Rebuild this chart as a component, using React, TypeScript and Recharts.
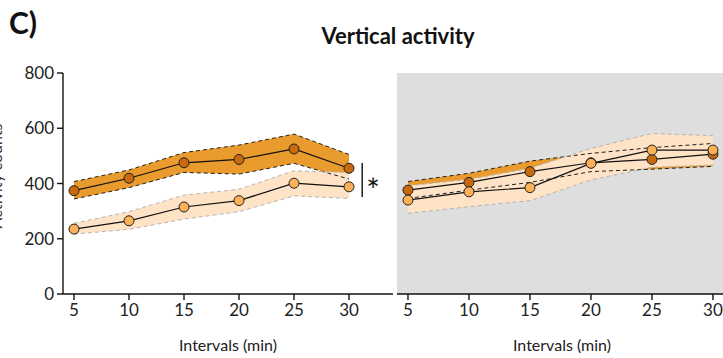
import React from 'react';
import {
  ComposedChart,
  Area,
  Line,
  XAxis,
  YAxis,
  CartesianGrid,
  ReferenceLine,
  Label,
} from 'recharts';

// Time bins (min)
const intervals = [5, 10, 15, 20, 25, 30];
const yTicks = [0, 200, 400, 600, 800];

// Left panel – dark group (mean and band limits)
const leftDarkMean = [374, 419, 475, 487, 525, 455];
const leftDarkLow = [344, 385, 440, 434, 473, 416];
const leftDarkHigh = [407, 449, 512, 539, 579, 505];
// Left panel – light group
const leftLightMean = [235, 265, 315, 338, 401, 388];
const leftLightLow = [217, 234, 271, 298, 355, 346];
const leftLightHigh = [256, 298, 358, 379, 446, 440];

// Right panel – dark group
const rightDarkMean = [376, 404, 443, 475, 487, 506];
const rightDarkLow = [346, 376, 404, 443, 452, 462];
const rightDarkHigh = [407, 437, 481, 509, 530, 545];
// Right panel – light group
const rightLightMean = [340, 370, 385, 473, 521, 521];
const rightLightLow = [292, 316, 338, 413, 459, 467];
const rightLightHigh = [392, 415, 455, 527, 581, 573];

// Significance bracket beside the left panel
const sigX = 31.2;
const sigRange = [351, 474];
const sigText = '*';

const FONT = "Lato, 'Open Sans', sans-serif";
const DARK_FILL = '#E99B2D';
const DARK_DOT = '#C8690E';
const LIGHT_FILL = '#FEE3C7';
const LIGHT_DOT = '#FBB158';

const buildRows = (
  dMean: number[], dLow: number[], dHigh: number[],
  lMean: number[], lLow: number[], lHigh: number[],
) =>
  intervals.map((t, i) => ({
    t,
    darkMean: dMean[i],
    darkLow: dLow[i],
    darkHigh: dHigh[i],
    darkBand: [dLow[i], dHigh[i]],
    lightMean: lMean[i],
    lightLow: lLow[i],
    lightHigh: lHigh[i],
    lightBand: [lLow[i], lHigh[i]],
  }));

const leftRows = buildRows(leftDarkMean, leftDarkLow, leftDarkHigh, leftLightMean, leftLightLow, leftLightHigh);
const rightRows = buildRows(rightDarkMean, rightDarkLow, rightDarkHigh, rightLightMean, rightLightLow, rightLightHigh);

const tickStyle = { fill: '#222', fontSize: 17, fontFamily: FONT };

function seriesLayers() {
  return [
    <Area key="db" type="linear" dataKey="darkBand" fill={DARK_FILL} fillOpacity={1} stroke="none" isAnimationActive={false} activeDot={false} />,
    <Area key="lb" type="linear" dataKey="lightBand" fill={LIGHT_FILL} fillOpacity={1} stroke="none" isAnimationActive={false} activeDot={false} />,
    <Line key="dl" type="linear" dataKey="darkLow" stroke="#222" strokeWidth={1} strokeDasharray="4 3" dot={false} activeDot={false} isAnimationActive={false} />,
    <Line key="dh" type="linear" dataKey="darkHigh" stroke="#222" strokeWidth={1} strokeDasharray="4 3" dot={false} activeDot={false} isAnimationActive={false} />,
    <Line key="ll" type="linear" dataKey="lightLow" stroke="#b5b5b5" strokeWidth={1} strokeDasharray="4 3" dot={false} activeDot={false} isAnimationActive={false} />,
    <Line key="lh" type="linear" dataKey="lightHigh" stroke="#b5b5b5" strokeWidth={1} strokeDasharray="4 3" dot={false} activeDot={false} isAnimationActive={false} />,
    <Line key="dm" type="linear" dataKey="darkMean" stroke="#111" strokeWidth={1.2} dot={{ r: 5, fill: DARK_DOT, stroke: '#222', strokeWidth: 1 }} activeDot={false} isAnimationActive={false} />,
    <Line key="lm" type="linear" dataKey="lightMean" stroke="#111" strokeWidth={1.2} dot={{ r: 5, fill: LIGHT_DOT, stroke: '#222', strokeWidth: 1 }} activeDot={false} isAnimationActive={false} />,
  ];
}

export default function App() {
  return (
    <div
      style={{
        position: 'absolute',
        left: 0,
        top: 0,
        width: 723,
        height: 358,
        overflow: 'hidden',
        background: '#fff',
        fontFamily: FONT,
      }}
    >
      <svg width={723} height={358} style={{ position: 'absolute', left: 0, top: 0 }}>
        <text x={9} y={34} fontSize={30} fontWeight={700} fill="#111" fontFamily={FONT}>C)</text>
        <text x={398} y={44} fontSize={22} fontWeight={700} fill="#111" textAnchor="middle" fontFamily={FONT}>
          Vertical activity
        </text>
        <text
          x={2}
          y={176}
          fontSize={16}
          fill="#333"
          textAnchor="middle"
          fontFamily={FONT}
          transform="rotate(-90 2 176)"
        >
          Activity counts
        </text>
        <text x={228} y={351} fontSize={16} fill="#222" textAnchor="middle" fontFamily={FONT}>Intervals (min)</text>
        <text x={562} y={351} fontSize={16} fill="#222" textAnchor="middle" fontFamily={FONT}>Intervals (min)</text>
      </svg>

      <div style={{ position: 'absolute', left: 0, top: 0 }}>
        <ComposedChart width={400} height={358} data={leftRows} margin={{ top: 73, right: 7, bottom: 0, left: 0 }}>
          <XAxis
            type="number"
            dataKey="t"
            domain={[4, 34]}
            ticks={intervals}
            tickSize={6}
            tickMargin={4}
            height={64}
            stroke="#111"
            strokeWidth={1.4}
            tick={tickStyle}
            allowDataOverflow
          />
          <YAxis
            type="number"
            domain={[0, 800]}
            ticks={yTicks}
            width={63}
            tickSize={6}
            tickMargin={3}
            stroke="#111"
            strokeWidth={1.4}
            tick={tickStyle}
            allowDataOverflow
          />
          {seriesLayers()}
          <ReferenceLine
            segment={[{ x: sigX, y: sigRange[0] }, { x: sigX, y: sigRange[1] }]}
            stroke="#111"
            strokeWidth={1.4}
            ifOverflow="visible"
          >
            <Label value={sigText} position="right" offset={4} fontSize={32} fill="#111" fontFamily={FONT} dy={11} />
          </ReferenceLine>
        </ComposedChart>
      </div>

      <div style={{ position: 'absolute', left: 397, top: 0 }}>
        <ComposedChart width={330} height={358} data={rightRows} margin={{ top: 73, right: 0, bottom: 0, left: 0 }}>
          <CartesianGrid horizontal={false} vertical={false} fill="#dedede" fillOpacity={1} stroke="none" />
          <XAxis
            type="number"
            dataKey="t"
            domain={[4.1, 31.15]}
            ticks={intervals}
            tickSize={6}
            tickMargin={4}
            height={64}
            stroke="#111"
            strokeWidth={1.4}
            tick={tickStyle}
            allowDataOverflow
          />
          <YAxis type="number" domain={[0, 800]} hide allowDataOverflow />
          {seriesLayers()}
        </ComposedChart>
      </div>
    </div>
  );
}
